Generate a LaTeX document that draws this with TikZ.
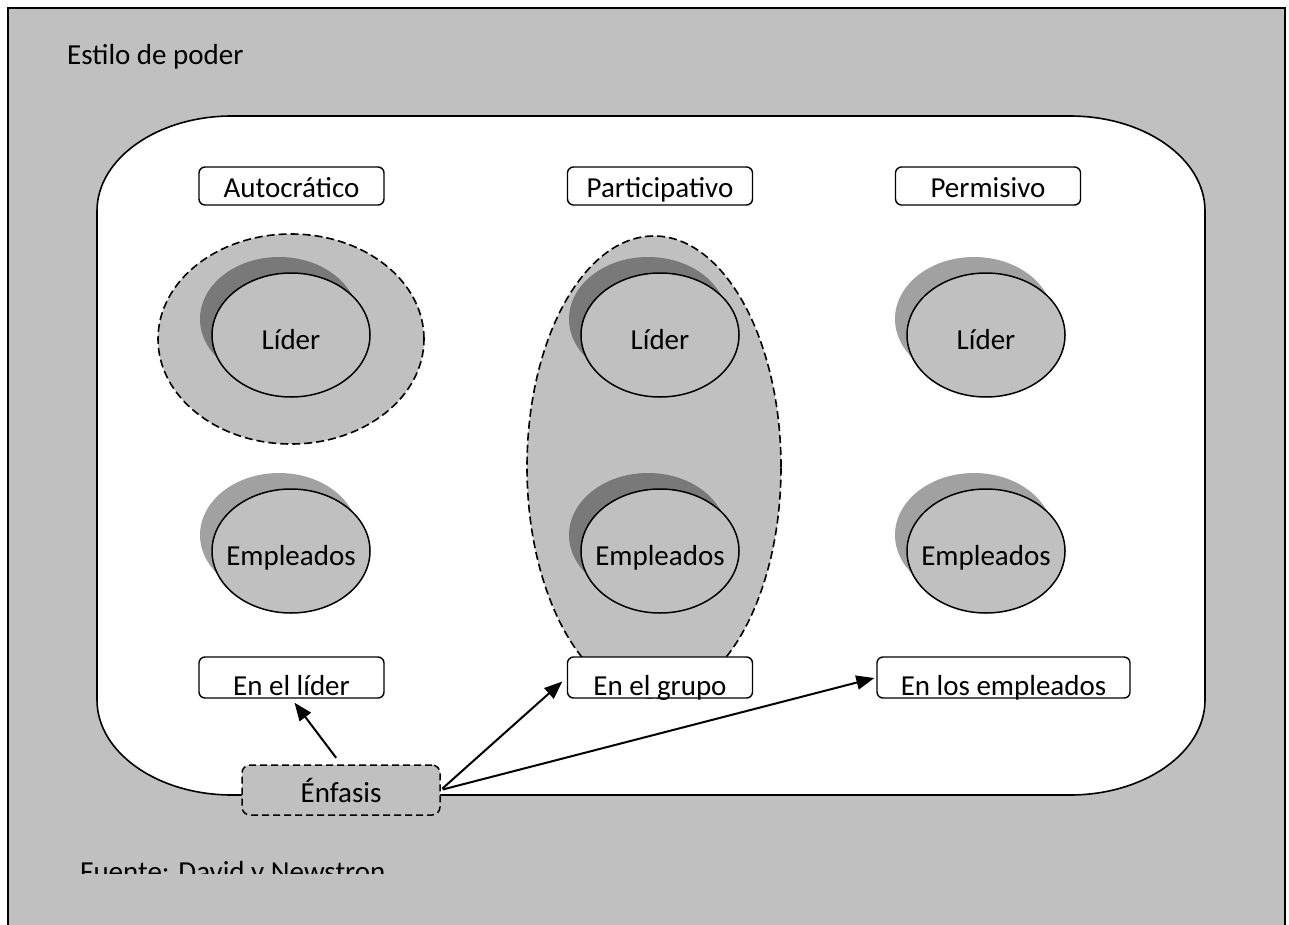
\documentclass[tikz,border=0pt]{standalone}
\usepackage{fontspec}
\setmainfont{Carlito}
\usetikzlibrary{arrows.meta,shapes.geometric,shadows}
\definecolor{panelgray}{HTML}{C0C0C0}
% zero-width box so the text does not enlarge the ovals
\newcommand\zw[1]{\makebox[0pt]{#1}}
\begin{document}
\begin{tikzpicture}[x=1pt,y=-1pt,
  font=\fontsize{29}{34}\selectfont,
  label box/.style={draw, fill=white, rounded corners=6pt, line width=1.4pt,
    minimum width=185pt, inner sep=0pt, text depth=0pt},
  head box/.style={label box, minimum height=38pt, text height=24pt},
  foot box/.style={label box, minimum height=41pt, text height=35pt},
  group oval/.style={ellipse, draw, fill=panelgray, line width=1.6pt,
    dash pattern=on 8pt off 4pt, inner sep=0pt},
  role oval/.style={ellipse, draw, fill=panelgray, line width=1.5pt,
    minimum width=158pt, minimum height=124pt, inner sep=0pt,
    text height=28pt, text depth=0pt,
    general shadow={fill=black, opacity=.37, shadow xshift=-12pt, shadow yshift=16pt}},
  focus box/.style={draw, fill=panelgray, rounded corners=8pt, line width=1.5pt,
    dash pattern=on 7pt off 4pt, minimum width=198pt, minimum height=50pt,
    inner sep=0pt, text height=24pt, text depth=0pt},
  arr/.style={-{Triangle[length=18pt,width=14pt]}, line width=2pt}]

\useasboundingbox (0,0) rectangle (1289,925);

% outer frame
\draw[fill=panelgray, line width=1.8pt] (8,940) -- (8,8) -- (1285,8) -- (1285,940);

% title and source
\node[anchor=base west, inner sep=0pt] (title) at (67,65) {Estilo de poder};
\begin{scope}
  \clip (0,0) rectangle (1289,873);
  \node[anchor=base west, inner sep=0pt] (source) at (80,881) {Fuente: David y Newstron};
\end{scope}

% white panel with elliptic corners
\draw[fill=white, line width=1.6pt]
  (232,116) -- (1070,116)
  .. controls (1144.5,116) and (1205,158.6) .. (1205,211)
  -- (1205,700)
  .. controls (1205,752.4) and (1144.5,795) .. (1070,795)
  -- (232,795)
  .. controls (157.5,795) and (97,752.4) .. (97,700)
  -- (97,211)
  .. controls (97,158.6) and (157.5,116) .. (232,116) -- cycle;

% groupings of power
\node[group oval, minimum width=266pt, minimum height=210pt] (gauto) at (291,339) {};
\node[group oval, minimum width=254pt, minimum height=462pt] (gpart) at (654,467) {};

% leader and employees
\node[role oval] (lauto) at (291,335) {\zw{Líder}};
\node[role oval] (lpart) at (660,335) {\zw{Líder}};
\node[role oval] (lperm) at (986,335) {\zw{Líder}};
\node[role oval] (eauto) at (291,551) {\zw{Empleados}};
\node[role oval] (epart) at (660,551) {\zw{Empleados}};
\node[role oval] (eperm) at (986,551) {\zw{Empleados}};

% style headings
\node[head box] (hauto) at (291.5,186) {Autocrático};
\node[head box] (hpart) at (660,186) {Participativo};
\node[head box] (hperm) at (988,186) {Permisivo};

% emphasis targets
\node[foot box] (fauto) at (291.5,677.5) {En el líder};
\node[foot box] (fpart) at (660,677.5) {En el grupo};
\node[foot box, minimum width=253pt] (fperm) at (1003.5,677.5) {En los empleados};

% emphasis
\node[focus box] (enf) at (341,790) {Énfasis};

\draw[arr, shorten <=8pt, shorten >=5pt] (enf.north) -- (fauto.south);
\draw[arr, shorten <=2pt, shorten >=6pt] (enf.east) -- (fpart.west);
\draw[arr, shorten <=2pt, shorten >=2pt] (enf.east) -- (fperm.west);
\end{tikzpicture}
\end{document}
